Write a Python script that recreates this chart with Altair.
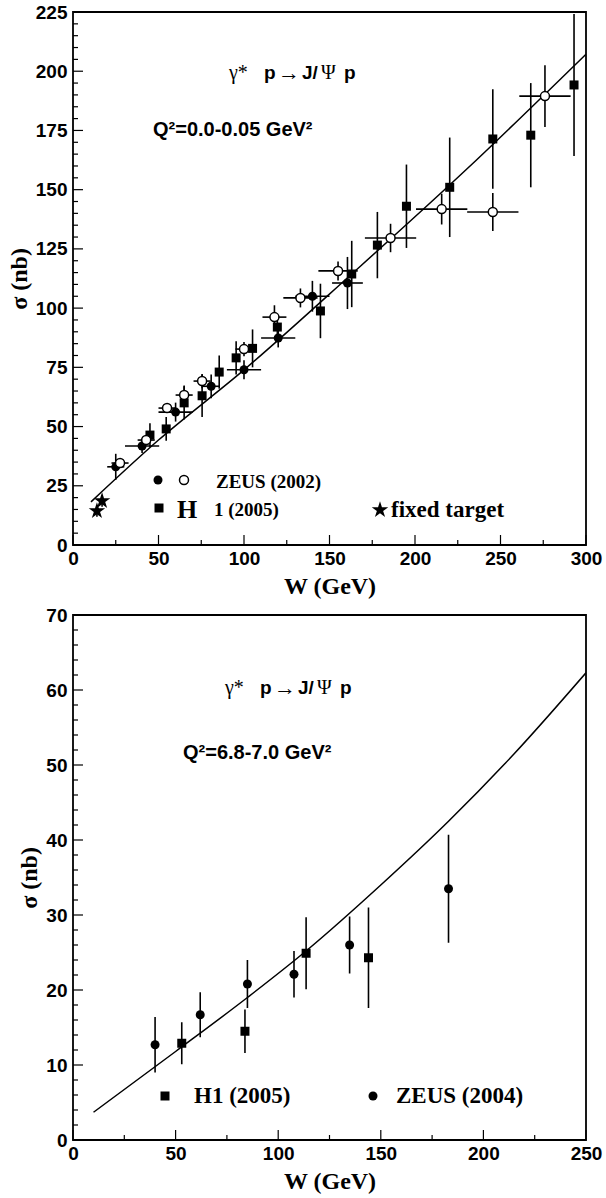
import altair as alt
import pandas as pd

# ---------------- Top panel: Q^2 = 0.0-0.05 GeV^2 ----------------
zeus_f_W = [25, 40.4, 60, 80.8, 100, 120, 140, 160.5]
zeus_f_sig = [33, 41.8, 56.1, 67, 74, 87.4, 105, 110.6]
zeus_f_dsig = [5.5, 3, 4, 5, 4, 4, 6.5, 11]
zeus_f_dW = [5, 10, 10, 5, 10, 10, 10, 9]

zeus_o_W = [27.5, 42.8, 55, 65, 75.5, 100, 117.8, 133, 155, 185.7, 215.6, 245.5, 276]
zeus_o_sig = [34.6, 44.3, 57.8, 63.3, 69.2, 82.7, 96.2, 104.3, 115.7, 129.6, 141.8, 140.6, 189.5]
zeus_o_dsig = [2, 2, 2, 4, 3, 3, 5, 4, 4, 6, 6.5, 8, 13]
zeus_o_dW = [5, 5, 5, 5, 5, 5, 7, 10, 11.5, 15, 15, 15, 15]

h1_top_W = [45, 54.5, 65, 75.5, 85.5, 95.4, 105, 119.5, 144.7, 163, 178, 195, 220.3, 245.5, 267.7, 293]
h1_top_sig = [46.4, 49, 60, 63, 73, 79, 83, 92, 98.8, 114.4, 126.6, 143, 151, 171.4, 173, 194.2]
h1_top_dsig = [5, 5, 7, 9, 7, 7, 8, 5, 11.5, 14, 14, 17.6, 21, 21, 22, 30]

fixed_W = [14, 17]
fixed_sig = [14.4, 18.6]
fixed_dsig = [2.5, 2.5]

curve_top_W = [10.5, 50, 100, 163, 230, 300]
curve_top_sig = [18.2, 44.3, 73.9, 114.4, 158.5, 207.2]

# ---------------- Bottom panel: Q^2 = 6.8-7.0 GeV^2 ----------------
h1_bot_W = [53, 83.8, 113.6, 144]
h1_bot_sig = [12.9, 14.5, 24.9, 24.3]
h1_bot_dsig = [2.8, 2.9, 4.8, 6.7]

zeus04_W = [40, 62, 85, 107.7, 134.8, 183]
zeus04_sig = [12.7, 16.7, 20.8, 22.1, 26, 33.5]
zeus04_dsig = [3.7, 3, 3.2, 3.1, 3.8, 7.2]

curve_bot_W = [10, 50, 85, 114, 150, 183, 215, 250]
curve_bot_sig = [3.7, 11.8, 19.0, 25.3, 34.0, 42.5, 51.5, 62.3]

# tick positions
top_x_major = [0, 50, 100, 150, 200, 250, 300]
top_x_minor = [25, 75, 125, 175, 225, 275]
top_y_major = [0, 25, 50, 75, 100, 125, 150, 175, 200, 225]
top_y_minor = [v for v in range(0, 226, 5) if v % 25 != 0]
bot_x_major = [0, 50, 100, 150, 200, 250]
bot_x_minor = [25, 75, 125, 175, 225]
bot_y_major = [0, 10, 20, 30, 40, 50, 60, 70]
bot_y_minor = [v for v in range(0, 71, 2) if v % 10 != 0]

# ---------------- layout / style ----------------
PW = 513
H_TOP = 533
H_BOT = 525
SANS = "Liberation Sans"
SERIF = "Liberation Serif"
STAR = ("M0,-1L0.225,-0.309L0.951,-0.309L0.363,0.118L0.588,0.809L0,0.382"
        "L-0.588,0.809L-0.363,0.118L-0.951,-0.309L-0.225,-0.309Z")
ERR_W = 1.6
MS = 81

one = pd.DataFrame({"a": [0]})


def points_df(W, s, ds=None, dW=None):
    d = pd.DataFrame({"W": W, "s": s})
    if ds is not None:
        d["slo"] = [a - b for a, b in zip(s, ds)]
        d["shi"] = [a + b for a, b in zip(s, ds)]
    if dW is not None:
        d["Wlo"] = [a - b for a, b in zip(W, dW)]
        d["Whi"] = [a + b for a, b in zip(W, dW)]
    return d


def marker_style(kind):
    if kind == "fcircle":
        return dict(shape="circle", filled=True, color="black", size=MS, opacity=1)
    if kind == "ocircle":
        return dict(shape="circle", filled=True, fill="white", stroke="black", strokeWidth=1.5,
                    size=MS, opacity=1)
    if kind == "square":
        return dict(shape="square", filled=True, color="black", size=MS, opacity=1)
    if kind == "star":
        return dict(shape=STAR, filled=True, color="black", size=300, opacity=1)
    raise ValueError(kind)


def make_panel(xmax, ymax, height, xmaj, xmin_, ymaj, ymin_, series, curve, texts, legend):
    xs = alt.Scale(domain=[0, xmax], nice=False, zero=False)
    ys = alt.Scale(domain=[0, ymax], nice=False, zero=False)
    xaxis = alt.Axis(values=xmaj, title="W (GeV)")
    yaxis = alt.Axis(values=ymaj, title="σ (nb)")

    def X(f):
        return alt.X(f"{f}:Q", scale=xs, axis=xaxis)

    def Y(f):
        return alt.Y(f"{f}:Q", scale=ys, axis=yaxis)

    layers = []
    # inner ticks
    for vals, ln in ((ymaj, 10), (ymin_, 5)):
        layers.append(alt.Chart(pd.DataFrame({"v": vals})).mark_rule(color="black", strokeWidth=1.2)
                      .encode(y=Y("v"), x=alt.value(0), x2=alt.value(ln)))
    for vals, ln in ((xmaj, 10), (xmin_, 5)):
        layers.append(alt.Chart(pd.DataFrame({"v": vals})).mark_rule(color="black", strokeWidth=1.2)
                      .encode(x=X("v"), y=alt.value(height), y2=alt.value(height - ln)))
    # curve
    cdf = pd.DataFrame({"W": curve[0], "s": curve[1]})
    layers.append(alt.Chart(cdf).mark_line(color="black", strokeWidth=1.5, interpolate="monotone", clip=True)
                  .encode(x=X("W"), y=Y("s")))
    # error bars
    for d, kind in series:
        if "slo" in d:
            layers.append(alt.Chart(d).mark_rule(color="black", strokeWidth=ERR_W)
                          .encode(x=X("W"), y=Y("slo"), y2="shi"))
        if "Wlo" in d:
            layers.append(alt.Chart(d).mark_rule(color="black", strokeWidth=ERR_W)
                          .encode(x=X("Wlo"), x2="Whi", y=Y("s")))
    # markers
    for d, kind in series:
        layers.append(alt.Chart(d).mark_point(**marker_style(kind)).encode(x=X("W"), y=Y("s")))
    # legend markers
    for kind, px, py in legend:
        layers.append(alt.Chart(one).mark_point(**marker_style(kind))
                      .encode(x=alt.value(px), y=alt.value(py)))
    # texts
    for t, px, py, font, size, weight in texts:
        layers.append(alt.Chart(one).mark_text(text=t, font=font, fontSize=size, fontWeight=weight,
                                               align="left", baseline="middle", color="black")
                      .encode(x=alt.value(px), y=alt.value(py)))
    return alt.layer(*layers).properties(width=PW, height=height)


# plot origin of the top panel is (74, 12); of the bottom panel (74, 616)
top_series = [
    (points_df(zeus_f_W, zeus_f_sig, zeus_f_dsig, zeus_f_dW), "fcircle"),
    (points_df(h1_top_W, h1_top_sig, h1_top_dsig), "square"),
    (points_df(fixed_W, fixed_sig, fixed_dsig), "star"),
    (points_df(zeus_o_W, zeus_o_sig, zeus_o_dsig, zeus_o_dW), "ocircle"),
]
top_texts = [
    ("γ*", 156, 61, SERIF, 20, "normal"),
    ("p", 191, 61, SANS, 19, "bold"),
    ("→", 205, 61, SERIF, 22, "normal"),
    ("J/", 229, 61, SANS, 19, "bold"),
    ("Ψ", 248, 61, SERIF, 20, "normal"),
    ("p", 271, 61, SANS, 19, "bold"),
    ("Q²=0.0-0.05 GeV²", 80, 118, SANS, 20, "bold"),
    ("ZEUS (2002)", 143, 470, SERIF, 19, "bold"),
    ("H", 104, 498, SERIF, 26, "bold"),
    ("1 (2005)", 141, 498, SERIF, 19, "bold"),
    ("fixed target", 318, 498, SERIF, 23, "bold"),
]
top_legend = [("fcircle", 85, 468), ("ocircle", 111, 468), ("square", 86, 496), ("star", 307, 498)]

bot_series = [
    (points_df(h1_bot_W, h1_bot_sig, h1_bot_dsig), "square"),
    (points_df(zeus04_W, zeus04_sig, zeus04_dsig), "fcircle"),
]
bot_texts = [
    ("γ*", 152, 73, SERIF, 20, "normal"),
    ("p", 187, 73, SANS, 19, "bold"),
    ("→", 201, 73, SERIF, 22, "normal"),
    ("J/", 225, 73, SANS, 19, "bold"),
    ("Ψ", 244, 73, SERIF, 20, "normal"),
    ("p", 267, 73, SANS, 19, "bold"),
    ("Q²=6.8-7.0 GeV²", 110, 138, SANS, 20, "bold"),
    ("H1 (2005)", 121, 481, SERIF, 23, "bold"),
    ("ZEUS (2004)", 323, 481, SERIF, 23, "bold"),
]
bot_legend = [("square", 92, 481), ("fcircle", 300, 481)]

top = make_panel(300, 225, H_TOP, top_x_major, top_x_minor, top_y_major, top_y_minor,
                 top_series, (curve_top_W, curve_top_sig), top_texts, top_legend)
bottom = make_panel(250, 70, H_BOT, bot_x_major, bot_x_minor, bot_y_major, bot_y_minor,
                    bot_series, (curve_bot_W, curve_bot_sig), bot_texts, bot_legend)

chart = (
    alt.vconcat(top, bottom, spacing=6)
    .properties(padding={"left": 6, "top": 2, "right": 0, "bottom": 0}, background="white")
    .configure_view(stroke="black", strokeWidth=1.8)
    .configure_axis(
        grid=False, ticks=False, tickSize=0, domain=False,
        labelFont=SANS, labelFontSize=19, labelFontWeight="bold", labelColor="black",
        labelPadding=6, labelFlush=False, labelOverlap=False,
        titleFont=SERIF, titleFontSize=24, titleFontWeight="bold", titleColor="black",
    )
    .configure_axisX(titlePadding=6, labelPadding=4)
    .configure_axisY(titlePadding=4)
)

chart.save("out.html", embed_options={"renderer": "svg", "actions": False})
